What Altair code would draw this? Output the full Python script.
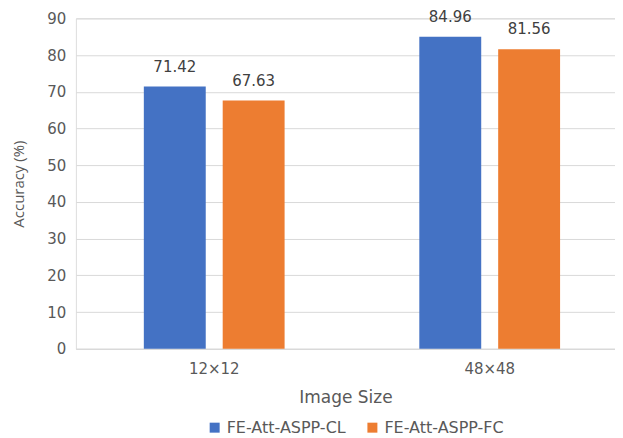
import altair as alt
import pandas as pd

categories = ["12×12", "12×12", "48×48", "48×48"]
series = ["FE-Att-ASPP-CL", "FE-Att-ASPP-FC", "FE-Att-ASPP-CL", "FE-Att-ASPP-FC"]
values = [71.42, 67.63, 84.96, 81.56]
series_order = ["FE-Att-ASPP-CL", "FE-Att-ASPP-FC"]
colors = ["#4472C4", "#ED7D31"]
y_ticks = [0, 10, 20, 30, 40, 50, 60, 70, 80, 90]

df = pd.DataFrame({"size": categories, "model": series, "acc": values})
df["label"] = df["acc"].map(lambda v: f"{v:.2f}")

FONT = "DejaVu Sans"
YFONT = "Open Sans"
GRAY = "#595959"

x = alt.X("size:N", title="Image Size",
          scale=alt.Scale(paddingInner=0.489, paddingOuter=0.223, align=0.553),
          axis=alt.Axis(labelAngle=0, ticks=False, domainColor="#d9d9d9",
                        labelPadding=13, labelFontSize=15, labelColor=GRAY,
                        labelFont=FONT, titleFont=FONT, titleFontSize=17,
                        titleFontWeight="normal", titleColor=GRAY, titlePadding=13))
xo = alt.XOffset("model:N", sort=series_order,
                 scale=alt.Scale(paddingInner=0.215, paddingOuter=0))
y = alt.Y("acc:Q", title="Accuracy (%)",
          scale=alt.Scale(domain=[0, 90], nice=False),
          axis=alt.Axis(values=y_ticks, ticks=False, domain=False,
                        gridColor="#d9d9d9", labelPadding=10, labelFontSize=15,
                        labelColor=GRAY, labelFont=FONT, titleFont=YFONT,
                        titleFontSize=15, titleFontWeight="normal",
                        titleColor=GRAY, titlePadding=20))

base = alt.Chart(df)

bars = base.mark_bar().encode(
    x=x,
    xOffset=xo,
    y=y,
    color=alt.Color("model:N", sort=series_order,
                    scale=alt.Scale(domain=series_order, range=colors),
                    legend=alt.Legend(title=None, orient="none", direction="horizontal",
                                      legendX=131, legendY=402, symbolType="square",
                                      symbolSize=100, symbolStrokeWidth=0,
                                      labelFont=FONT, labelFontSize=16,
                                      labelColor=GRAY, columnPadding=18,
                                      symbolOpacity=1)),
)

text = base.mark_text(baseline="bottom", dy=-12, font=FONT, fontSize=15, color="#404040").encode(
    x=x,
    xOffset=xo,
    y=y,
    text="label:N",
)

chart = (bars + text).properties(
    width=540, height=331,
    padding={"left": 68, "top": 10, "right": 0, "bottom": 92},
    autosize=alt.AutoSizeParams(type="none"),
).configure_view(stroke=None).configure(font=FONT)

chart.save("out.html", embed_options={"renderer": "svg", "actions": False})
